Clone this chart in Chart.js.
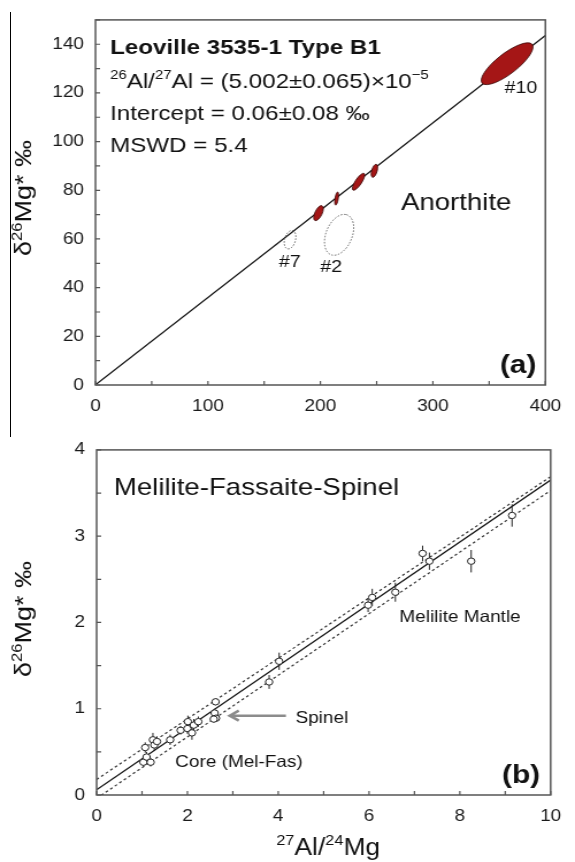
<!DOCTYPE html>
<html>
<head>
<meta charset="utf-8">
<script src="https://cdn.jsdelivr.net/npm/chart.js@4.4.1/dist/chart.umd.min.js"></script>
<style>
  html, body { margin: 0; padding: 0; background: #fff; }
  #wrap { position: relative; width: 575px; height: 862px; overflow: hidden; }
  canvas { position: absolute; left: 0; }
  #edge { position: absolute; left: 10px; top: 12px; width: 1px; height: 425px; background: #000; }
</style>
</head>
<body>
<div id="wrap">
  <canvas id="chartA" width="500" height="430" style="top:0;width:575px;height:430px"></canvas>
  <canvas id="chartB" width="500" height="432" style="top:430px;width:575px;height:432px"></canvas>
  <div id="edge"></div>
</div>
<script>
// ---- panel (a) : anorthite, error ellipses (centre, half extents, correlation)
const anX   = [366, 248, 233.9, 214.4, 198.3];
const anY   = [132, 88, 83.5, 76.6, 70.6];
const anSx  = [23, 2.9, 5.5, 1.7, 4.3];
const anSy  = [8.6, 2.7, 3.5, 2.7, 3.1];
const anRho = [0.8, 0.5, 0.8, 0.5, 0.6];
// spots left out of the fit (#7, #2)
const rejX   = [173, 216.6];
const rejY   = [59.7, 61.7];
const rejSx  = [5.2, 13];
const rejSy  = [3.8, 8.4];
const rejRho = [0.3, 0.35];
// isochron
const isoAX = [0, 400];
const isoAY = [0.06, 143.6];
const ticksAX = [0, 100, 200, 300, 400];
const ticksAY = [0, 20, 40, 60, 80, 100, 120, 140];

// ---- panel (b) : melilite-fassaite-spinel
const mfsX   = [1.03, 1.19, 1.10, 1.07, 1.24, 1.27, 1.33, 1.62, 1.85, 2.01, 2.00, 2.10, 2.14, 2.24,
                2.62, 2.60, 2.63, 2.58, 3.80, 4.02, 5.98, 6.07, 6.58, 7.18, 7.33, 8.25, 9.15];
const mfsY   = [0.38, 0.38, 0.44, 0.55, 0.64, 0.58, 0.62, 0.64, 0.75, 0.85, 0.77, 0.72, 0.81, 0.85,
                1.08, 0.95, 0.89, 0.88, 1.31, 1.55, 2.20, 2.29, 2.35, 2.80, 2.71, 2.71, 3.24];
const mfsErr = [0.05, 0.05, 0.06, 0.06, 0.08, 0.07, 0.06, 0.06, 0.05, 0.07, 0.06, 0.08, 0.07, 0.06,
                0.04, 0.05, 0.04, 0.04, 0.08, 0.10, 0.08, 0.10, 0.11, 0.09, 0.10, 0.13, 0.13];
const fitBX = [0, 10];
const fitBY = [0.06, 3.65];
const envUpY = [0.18, 3.69];
const envLoY = [-0.04, 3.53];
const ticksBX = [0, 2, 4, 6, 8, 10];
const ticksBY = [0, 1, 2, 3, 4];

const FONT = '"Liberation Sans", Arial, sans-serif';
Chart.defaults.font.family = FONT;
Chart.defaults.color = '#1a1a1a';

function txt(ctx, parts, x, y, size, weight, align) {
    const f = s => `${weight || 'normal'} ${s}px ${FONT}`;
    let w = 0;
    parts.forEach(([s, sup]) => { ctx.font = f(sup ? size * 0.62 : size); w += ctx.measureText(s).width; });
    let cx = align === 'right' ? x - w : align === 'center' ? x - w / 2 : x;
    ctx.textAlign = 'left';
    ctx.textBaseline = 'alphabetic';
    parts.forEach(([s, sup]) => {
        ctx.font = f(sup ? size * 0.62 : size);
        ctx.fillText(s, cx, sup ? y - size * 0.42 : y);
        cx += ctx.measureText(s).width;
    });
}

function yTitle(ctx, x, y, size) {
    ctx.save();
    ctx.translate(x, y);
    ctx.rotate(-Math.PI / 2);
    ctx.scale(1, 0.75);
    ctx.fillStyle = '#111';
    txt(ctx, [['δ', 0], ['26', 1], ['Mg* ‰', 0]], 0, size * 0.35, size, 'normal', 'center');
    ctx.restore();
}

function frameAndTicks(chart) {
    const { ctx, chartArea: ca, scales: { x, y } } = chart;
    ctx.save();
    ctx.strokeStyle = '#555';
    ctx.lineWidth = 1.5;
    ctx.strokeRect(ca.left, ca.top, ca.right - ca.left, ca.bottom - ca.top);
    ctx.lineWidth = 1.2;
    ctx.beginPath();
    x.ticks.forEach(t => {
        const px = x.getPixelForValue(t.value);
        ctx.moveTo(px, ca.bottom); ctx.lineTo(px, ca.bottom - 4);
    });
    y.ticks.forEach(t => {
        const py = y.getPixelForValue(t.value);
        ctx.moveTo(ca.left, py); ctx.lineTo(ca.left + 4, py);
    });
    ctx.stroke();
    ctx.restore();
}

function ellipsePath(ctx, sx, sy, cx, cy, ex, ey, rho) {
    const px = sx.getPixelForValue(cx), py = sy.getPixelForValue(cy);
    const a = Math.abs(sx.getPixelForValue(cx + ex) - px);
    const b = Math.abs(sy.getPixelForValue(cy + ey) - py);
    const c = -rho * a * b;
    const m = (a * a + b * b) / 2;
    const d = Math.sqrt(((a * a - b * b) / 2) ** 2 + c * c);
    const r1 = Math.sqrt(m + d), r2 = Math.sqrt(Math.max(m - d, 0.5));
    const th = 0.5 * Math.atan2(2 * c, a * a - b * b);
    ctx.beginPath();
    ctx.ellipse(px, py, r1, r2, th, 0, Math.PI * 2);
}

function axisOpts(min, max, step, shown, pad, fitFn) {
    return {
        type: 'linear', min: min, max: max,
        grid: { display: true, drawOnChartArea: false, drawTicks: false },
        border: { display: false },
        ticks: {
            stepSize: step, autoSkip: false, padding: pad, color: '#1a1a1a',
            font: { size: 16.5 },
            callback: v => shown.includes(v) ? String(v) : ''
        },
        afterFit: fitFn
    };
}

const panelA = {
    id: 'panelA',
    afterDatasetsDraw(chart) {
        const { ctx, scales: { x, y } } = chart;
        ctx.save();
        anX.forEach((v, i) => {
            ellipsePath(ctx, x, y, v, anY[i], anSx[i], anSy[i], anRho[i]);
            ctx.fillStyle = '#a51616';
            ctx.fill();
            ctx.strokeStyle = '#3a0808';
            ctx.lineWidth = 0.8;
            ctx.stroke();
        });
        ctx.setLineDash([1.5, 1.5]);
        ctx.strokeStyle = '#666';
        ctx.lineWidth = 1;
        rejX.forEach((v, i) => {
            ellipsePath(ctx, x, y, v, rejY[i], rejSx[i], rejSy[i], rejRho[i]);
            ctx.stroke();
        });
        ctx.restore();
    },
    afterDraw(chart) {
        const { ctx, scales: { x, y } } = chart;
        frameAndTicks(chart);
        ctx.save();
        ctx.fillStyle = '#111';
        const X = v => x.getPixelForValue(v), Y = v => y.getPixelForValue(v);
        txt(ctx, [['Leoville 3535-1 Type B1', 0]], X(13), Y(135.9), 21, 'bold');
        txt(ctx, [['26', 1], ['Al/', 0], ['27', 1], ['Al = (5.002±0.065)×10', 0], ['−5', 1]], X(13), Y(122.2), 21);
        txt(ctx, [['Intercept = 0.06±0.08 ‰', 0]], X(13), Y(108.9), 21);
        txt(ctx, [['MSWD = 5.4', 0]], X(13), Y(95.6), 21);
        txt(ctx, [['Anorthite', 0]], X(271.6), Y(71.8), 24);
        txt(ctx, [['#10', 0]], X(363.8), Y(119.8), 17);
        txt(ctx, [['#7', 0]], X(163), Y(48.4), 17);
        txt(ctx, [['#2', 0]], X(200), Y(46.4), 17);
        txt(ctx, [['(a)', 0]], X(392), Y(4.8), 26, 'bold', 'right');
        yTitle(ctx, 20, 198, 27);
        ctx.restore();
    }
};

const panelB = {
    id: 'panelB',
    beforeDatasetDraw(chart, args) {
        if (args.index !== 0) return;
        const { ctx, scales: { x, y } } = chart;
        ctx.save();
        ctx.strokeStyle = '#222';
        ctx.lineWidth = 1;
        ctx.beginPath();
        mfsX.forEach((v, i) => {
            const px = x.getPixelForValue(v);
            ctx.moveTo(px, y.getPixelForValue(mfsY[i] - mfsErr[i]));
            ctx.lineTo(px, y.getPixelForValue(mfsY[i] + mfsErr[i]));
        });
        ctx.stroke();
        ctx.restore();
    },
    afterDraw(chart) {
        const { ctx, scales: { x, y } } = chart;
        frameAndTicks(chart);
        const X = v => x.getPixelForValue(v), Y = v => y.getPixelForValue(v);
        ctx.save();
        // arrow pointing at the spinel analyses
        const x0 = X(4.17), x1 = X(2.93), ya = Y(0.92);
        ctx.strokeStyle = '#8c8c8c';
        ctx.lineWidth = 2.5;
        ctx.beginPath();
        ctx.moveTo(x0, ya); ctx.lineTo(x1 + 1, ya);
        ctx.moveTo(x1 + 8, ya - 5); ctx.lineTo(x1, ya); ctx.lineTo(x1 + 8, ya + 5);
        ctx.stroke();
        ctx.fillStyle = '#111';
        txt(ctx, [['Melilite-Fassaite-Spinel', 0]], X(0.38), Y(3.48), 24);
        txt(ctx, [['Melilite Mantle', 0]], X(6.67), Y(2.0), 16.5);
        txt(ctx, [['Spinel', 0]], X(4.38), Y(0.83), 16.5);
        txt(ctx, [['Core (Mel-Fas)', 0]], X(1.73), Y(0.32), 16.5);
        txt(ctx, [['(b)', 0]], X(9.77), Y(0.14), 26, 'bold', 'right');
        yTitle(ctx, 20, 189, 27);
        txt(ctx, [['27', 1], ['Al/', 0], ['24', 1], ['Mg', 0]], (chart.chartArea.left + chart.chartArea.right) / 2 + 4, 425, 23, 'normal', 'center');
        ctx.restore();
    }
};

new Chart(document.getElementById('chartA'), {
    type: 'scatter',
    data: {
        datasets: [{
            data: isoAX.map((v, i) => ({ x: v, y: isoAY[i] })),
            showLine: true, borderColor: '#111', borderWidth: 1.2, pointRadius: 0
        }]
    },
    options: {
        responsive: false, animation: false,
        layout: { autoPadding: false, padding: { top: 13, right: 14, left: 0, bottom: 0 } },
        plugins: { legend: { display: false }, tooltip: { enabled: false } },
        scales: {
            x: axisOpts(0, 400, 50, ticksAX, 12, s => { s.height = 45; }),
            y: axisOpts(0, 150, 10, ticksAY, 10, s => { s.width = 83; })
        }
    },
    plugins: [panelA]
});

new Chart(document.getElementById('chartB'), {
    type: 'scatter',
    data: {
        datasets: [{
            data: mfsX.map((v, i) => ({ x: v, y: mfsY[i] })),
            pointRadius: 3.2, pointBorderWidth: 1, pointBorderColor: '#222',
            pointBackgroundColor: '#fff', order: 0
        }, {
            data: fitBX.map((v, i) => ({ x: v, y: fitBY[i] })),
            showLine: true, borderColor: '#111', borderWidth: 1.2, pointRadius: 0, order: 1
        }, {
            data: fitBX.map((v, i) => ({ x: v, y: envUpY[i] })),
            showLine: true, borderColor: '#333', borderWidth: 1.2, borderDash: [2.5, 2.5], pointRadius: 0, order: 2
        }, {
            data: fitBX.map((v, i) => ({ x: v, y: envLoY[i] })),
            showLine: true, borderColor: '#333', borderWidth: 1.2, borderDash: [2.5, 2.5], pointRadius: 0, order: 3
        }]
    },
    options: {
        responsive: false, animation: false,
        layout: { autoPadding: false, padding: { top: 5, right: 10, left: 0, bottom: 0 } },
        plugins: { legend: { display: false }, tooltip: { enabled: false } },
        scales: {
            x: axisOpts(0, 10, 1, ticksBX, 12, s => { s.height = 67; }),
            y: axisOpts(0, 4, 0.5, ticksBY, 10, s => { s.width = 84; })
        }
    },
    plugins: [panelB]
});
</script>
</body>
</html>
